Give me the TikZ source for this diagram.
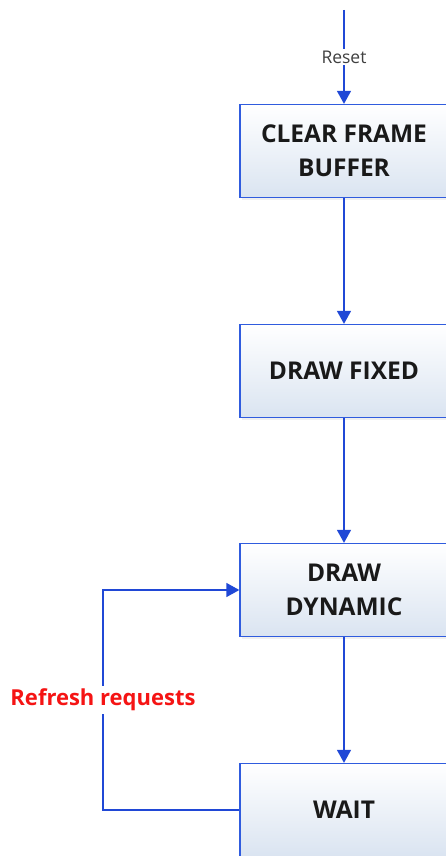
\documentclass[tikz,border=0pt]{standalone}
\usepackage{fontspec}
\setmainfont{Open Sans}
\usetikzlibrary{arrows.meta,shadows}
\definecolor{flowblue}{RGB}{32,72,214}
\definecolor{boxedge}{RGB}{48,92,222}
\definecolor{boxbottom}{RGB}{218,228,241}
\definecolor{refreshred}{RGB}{245,20,20}
\definecolor{labelgray}{RGB}{64,64,64}
\tikzset{
  statebox/.style={rectangle, draw=boxedge, line width=1.3pt,
    top color=white, bottom color=boxbottom,
    minimum width=208pt, minimum height=93pt, align=center,
    font=\fontsize{24.5}{34}\selectfont\bfseries, text=black!90,
    drop shadow={opacity=0.12, shadow xshift=2pt, shadow yshift=-2pt}},
  flow/.style={draw=flowblue, line width=1.3pt,
    -{Triangle[length=13pt,width=14pt]}},
}
\begin{document}
\begin{tikzpicture}[x=1pt,y=-1pt]
\useasboundingbox (0,0) rectangle (445,856);

\node[statebox] (clear) at (344,151) {CLEAR FRAME\\BUFFER};
\node[statebox] (fixed) at (344,371) {DRAW FIXED};
\node[statebox] (dyn)   at (344,590) {DRAW\\DYNAMIC};
\node[statebox] (wait)  at (344,810) {WAIT};

\coordinate (start) at (344,10);
\coordinate (loopbot) at (103,810);
\coordinate (looptop) at (103,590);

\draw[flow] (start) -- node[fill=white, inner sep=2pt, text=labelgray,
  font=\fontsize{17.5}{19}\selectfont] {Reset} (clear);
\draw[flow] (clear) -- (fixed);
\draw[flow] (fixed) -- (dyn);
\draw[flow] (dyn) -- (wait);
\draw[flow] (wait.west) -- (loopbot) -- node[fill=white, inner sep=3pt,
  text=refreshred, font=\fontsize{22}{24}\selectfont\bfseries]
  {Refresh requests} (looptop) -- (dyn.west);
\end{tikzpicture}
\end{document}
